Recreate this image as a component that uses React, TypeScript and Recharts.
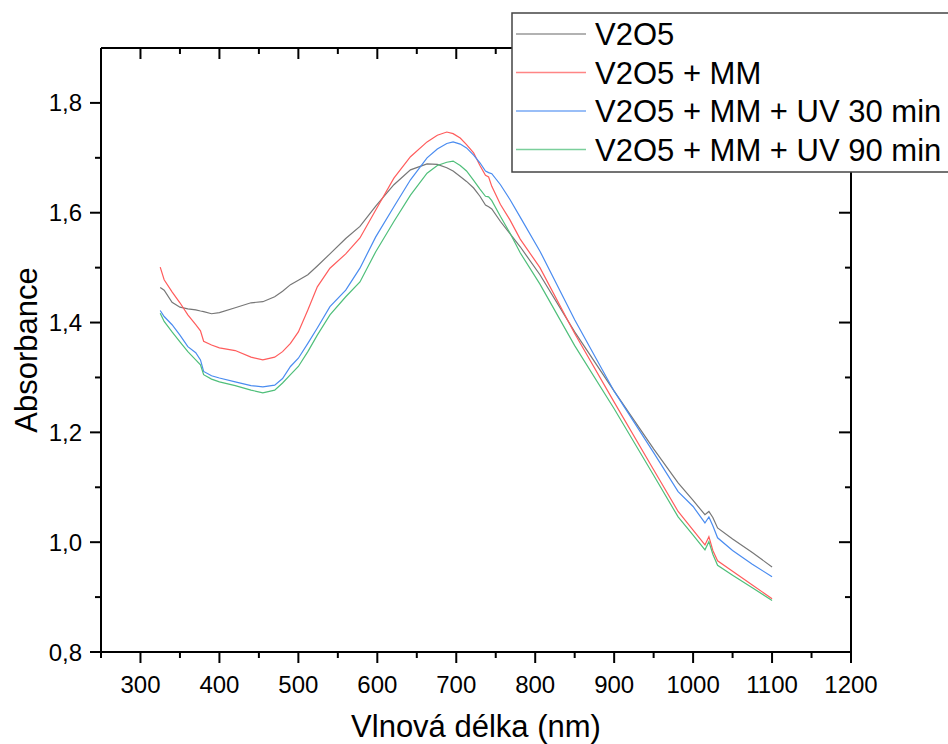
import React from "react";
import { LineChart, Line, XAxis, YAxis } from "recharts";

const FONT = "'Liberation Sans', Arial, sans-serif";

const wavelengths = [
  325, 330, 340, 350, 360, 370, 376, 380, 390, 400, 420, 440, 455, 470, 480, 490, 500, 512, 524, 540,
  560, 578, 598, 621, 642, 663, 676, 688, 696, 705, 713, 722, 730, 737, 741, 745, 756, 768, 781, 806,
  850, 900, 950, 981, 1000, 1015, 1020, 1025, 1031, 1050, 1075, 1100,
];

const v2o5 = [
  1.464, 1.459, 1.437, 1.428, 1.425, 1.423, 1.421, 1.42, 1.416, 1.418, 1.427, 1.436, 1.438, 1.447, 1.457, 1.469, 1.477, 1.487, 1.503, 1.525,
  1.553, 1.575, 1.612, 1.651, 1.678, 1.689, 1.688, 1.682, 1.676, 1.666, 1.657, 1.645, 1.63, 1.614, 1.611, 1.607, 1.584, 1.562, 1.538, 1.487,
  1.383, 1.275, 1.17, 1.108, 1.076, 1.05, 1.056, 1.045, 1.026, 1.006, 0.981, 0.955,
];

const v2o5Mm = [
  1.501, 1.478, 1.456, 1.436, 1.414, 1.396, 1.385, 1.366, 1.359, 1.354, 1.349, 1.337, 1.332, 1.337, 1.347, 1.362, 1.383, 1.423, 1.465, 1.499,
  1.525, 1.554, 1.605, 1.663, 1.702, 1.729, 1.741, 1.747, 1.744, 1.736, 1.724, 1.709, 1.686, 1.668, 1.665, 1.648, 1.615, 1.587, 1.552, 1.5,
  1.38, 1.255, 1.132, 1.056, 1.022, 0.995, 1.01, 0.985, 0.966, 0.947, 0.922, 0.897,
];

const v2o5Uv30 = [
  1.422, 1.411, 1.396, 1.377, 1.356, 1.345, 1.332, 1.311, 1.303, 1.299, 1.292, 1.285, 1.283, 1.286, 1.298, 1.32, 1.335, 1.362, 1.39, 1.429,
  1.459, 1.499, 1.556, 1.611, 1.66, 1.7, 1.716, 1.726, 1.729, 1.725, 1.718, 1.705, 1.691, 1.676, 1.673, 1.671, 1.651, 1.624, 1.592, 1.53,
  1.405, 1.275, 1.163, 1.092, 1.065, 1.035, 1.046, 1.03, 1.008, 0.985, 0.96, 0.937,
];

const v2o5Uv90 = [
  1.417, 1.402, 1.383, 1.365, 1.347, 1.332, 1.323, 1.305, 1.297, 1.292, 1.285, 1.277, 1.272, 1.277, 1.29, 1.305, 1.32, 1.347, 1.377, 1.414,
  1.447, 1.474, 1.529, 1.584, 1.632, 1.672, 1.686, 1.692, 1.694, 1.686, 1.676, 1.659, 1.643, 1.63, 1.629, 1.622, 1.593, 1.563, 1.527, 1.47,
  1.358, 1.243, 1.122, 1.046, 1.013, 0.986, 1.001, 0.978, 0.958, 0.94, 0.917, 0.894,
];

const xTicks = [250, 300, 350, 400, 450, 500, 550, 600, 650, 700, 750, 800, 850, 900, 950, 1000, 1050, 1100, 1150, 1200];
const yTicks = [0.8, 0.9, 1.0, 1.1, 1.2, 1.3, 1.4, 1.5, 1.6, 1.7, 1.8];

const series = [
  { key: "v2o5", name: "V2O5", color: "#777777", values: v2o5 },
  { key: "mm", name: "V2O5 + MM", color: "#ff5c5c", values: v2o5Mm },
  { key: "uv30", name: "V2O5 + MM + UV 30 min", color: "#4a8cf0", values: v2o5Uv30 },
  { key: "uv90", name: "V2O5 + MM + UV 90 min", color: "#4fbf7a", values: v2o5Uv90 },
];

const data = wavelengths.map((w, i) => {
  const row: any = { w };
  series.forEach((s) => (row[s.key] = s.values[i]));
  return row;
});

const majorX = (v: number) => v % 100 === 0;
const majorY = (v: number) => Math.round(v * 10) % 2 === 0;

const BottomTick = ({ x, y, payload }: any) => {
  const big = majorX(payload.value);
  return (
    <g>
      <line x1={x} x2={x} y1={y} y2={y + (big ? 11 : 6)} stroke="#000" strokeWidth={2} />
      {big && (
        <text x={x} y={y + 41} textAnchor="middle" fontSize={24} fontFamily={FONT} fill="#000">
          {payload.value}
        </text>
      )}
    </g>
  );
};

const TopTick = ({ x, y, payload }: any) => {
  const big = majorX(payload.value);
  return <line x1={x} x2={x} y1={y} y2={y + (big ? 11 : 6)} stroke="#000" strokeWidth={2} />;
};

const LeftTick = ({ x, y, payload }: any) => {
  const big = majorY(payload.value);
  return (
    <g>
      <line x1={x - (big ? 11 : 6)} x2={x} y1={y} y2={y} stroke="#000" strokeWidth={2} />
      {big && (
        <text x={x - 19} y={y + 8.5} textAnchor="end" fontSize={24} fontFamily={FONT} fill="#000">
          {payload.value.toFixed(1).replace(".", ",")}
        </text>
      )}
    </g>
  );
};

const RightTick = ({ x, y, payload }: any) => {
  const big = majorY(payload.value);
  return <line x1={x - (big ? 12 : 6)} x2={x} y1={y} y2={y} stroke="#000" strokeWidth={2} />;
};

const XTitle = ({ viewBox }: any) => (
  <text x={viewBox.x + viewBox.width / 2} y={viewBox.y + 85} textAnchor="middle" fontSize={31} fontFamily={FONT} fill="#000">
    Vlnová délka (nm)
  </text>
);

const YTitle = ({ viewBox }: any) => {
  const cx = 37;
  const cy = viewBox.y + viewBox.height / 2;
  return (
    <text x={cx} y={cy} transform={`rotate(-90 ${cx} ${cy})`} textAnchor="middle" fontSize={31} fontFamily={FONT} fill="#000">
      Absorbance
    </text>
  );
};

function LegendBox() {
  return (
    <svg width={440} height={162} style={{ position: "absolute", left: 511, top: 12 }}>
      <rect x={1} y={1} width={450} height={159} fill="#fff" stroke="#444" strokeWidth={1.5} />
      {series.map((s, i) => {
        const cy = 22 + i * 38.5;
        return (
          <g key={s.key}>
            <line x1={5} x2={75} y1={cy} y2={cy} stroke={s.color} strokeWidth={1.3} strokeOpacity={0.75} />
            <text x={84} y={cy + 11} fontSize={31} fontFamily={FONT} fill="#000">
              {s.name}
            </text>
          </g>
        );
      })}
    </svg>
  );
}

export default function App() {
  return (
    <div style={{ position: "absolute", left: 0, top: 0, width: 948, height: 744, overflow: "hidden", background: "#fff" }}>
      <LineChart width={948} height={744} data={data} margin={{ top: 38, right: 87, bottom: 32, left: 41 }}>
        <XAxis
          dataKey="w"
          type="number"
          domain={[250, 1200]}
          ticks={xTicks}
          interval={0}
          tickSize={0}
          tickMargin={0}
          tick={<BottomTick />}
          axisLine={{ stroke: "#000", strokeWidth: 2 }}
          height={60}
          label={<XTitle />}
        />
        <XAxis
          xAxisId="top"
          orientation="top"
          dataKey="w"
          type="number"
          domain={[250, 1200]}
          ticks={xTicks}
          interval={0}
          tickSize={0}
          tickMargin={0}
          tick={<TopTick />}
          axisLine={{ stroke: "#000", strokeWidth: 2 }}
          height={10}
        />
        <YAxis
          type="number"
          domain={[0.8, 1.9]}
          ticks={yTicks}
          interval={0}
          tickSize={0}
          tickMargin={0}
          tick={<LeftTick />}
          axisLine={{ stroke: "#000", strokeWidth: 2 }}
          width={60}
          allowDataOverflow
          label={<YTitle />}
        />
        <YAxis
          yAxisId="right"
          orientation="right"
          type="number"
          domain={[0.8, 1.9]}
          ticks={yTicks}
          interval={0}
          tickSize={0}
          tickMargin={0}
          tick={<RightTick />}
          axisLine={{ stroke: "#000", strokeWidth: 2 }}
          width={10}
          allowDataOverflow
        />
        {series.map((s) => (
          <Line
            key={s.key}
            dataKey={s.key}
            name={s.name}
            type="linear"
            stroke={s.color}
            strokeWidth={1.2}
            dot={false}
            isAnimationActive={false}
          />
        ))}
      </LineChart>
      <LegendBox />
    </div>
  );
}
